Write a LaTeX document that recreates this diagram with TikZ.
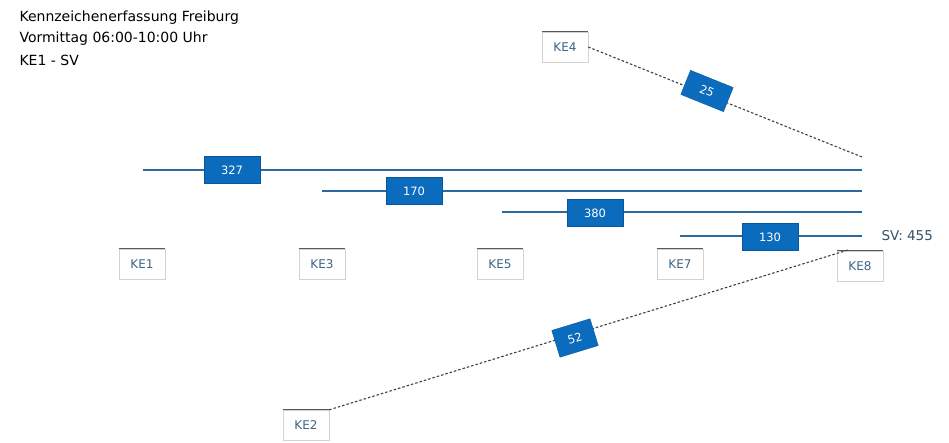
\documentclass[tikz,border=0pt]{standalone}
\usepackage{fontspec}
\setmainfont{DejaVu Sans}
\begin{document}
\begin{tikzpicture}[x=1pt,y=-1pt,
  flow/.style={draw=linecol,line width=1.6pt},
  valbox/.style={fill=boxcol,draw=boxcol!80!black,line width=0.4pt,minimum width=56pt,minimum height=27pt,inner sep=0pt,text=white,font=\fontsize{11.5}{13}\selectfont},
  dvalbox/.style={valbox,minimum width=46pt,minimum height=26pt},
  kebox/.style={draw=gray!35,fill=white,minimum width=46pt,minimum height=30pt,inner sep=0pt,text=ketext,font=\fontsize{12}{14}\selectfont,
     append after command={\pgfextra{\draw[gray!70!black,line width=1.2pt] (\tikzlastnode.north west) -- (\tikzlastnode.north east);}}},
  dline/.style={draw=gray!50!black,dashed,dash pattern=on 2.5pt off 2pt,line width=1.1pt},
  title/.style={anchor=west,font=\fontsize{14}{16}\selectfont,text=black}
]
\definecolor{linecol}{HTML}{2B6AA3}
\definecolor{boxcol}{HTML}{0B6CBE}
\definecolor{ketext}{HTML}{3D6585}
\useasboundingbox (0,0) rectangle (949,443);

\node[title] (t1) at (16,18) {Kennzeichenerfassung Freiburg};
\node[title] (t2) at (16,39) {Vormittag 06:00-10:00 Uhr};
\node[title] (t3) at (16,60) {KE1 - SV};

% lines
\coordinate (s1) at (143,170);
\coordinate (s2) at (322,191);
\coordinate (s3) at (502,212);
\coordinate (s4) at (680,236);
\coordinate (e1) at (862,170);
\coordinate (e2) at (862,191);
\coordinate (e3) at (862,212);
\coordinate (e4) at (862,236);
\draw[flow] (s1) -- (e1);
\draw[flow] (s2) -- (e2);
\draw[flow] (s3) -- (e3);
\draw[flow] (s4) -- (e4);
\node[valbox] (v1) at (232,170) {327};
\node[valbox] (v2) at (414,191) {170};
\node[valbox] (v3) at (595,213) {380};
\node[valbox] (v4) at (770,237) {130};
\node[anchor=west,font=\fontsize{13.5}{15}\selectfont,text=ketext!80!black] (sv) at (878,236) {SV: 455};

% KE boxes
\node[kebox] (ke1) at (142,264) {KE1};
\node[kebox] (ke3) at (322,264) {KE3};
\node[kebox] (ke5) at (500,264) {KE5};
\node[kebox] (ke7) at (680,264) {KE7};
\node[kebox] (ke8) at (860,266) {KE8};
\node[kebox] (ke4) at (565,47) {KE4};
\node[kebox] (ke2) at (306,425) {KE2};

% dashed connectors
\coordinate (d1) at (862,157);
\coordinate (d2) at (848,250);
\draw[dline] (ke4.east) -- (d1);
\draw[dline] (ke2.north east) -- (d2);
\node[dvalbox,rotate=-22] (v5) at (707,91) {25};
\node[dvalbox,minimum width=40pt,minimum height=28pt,rotate=17] (v6) at (575,338) {52};
\end{tikzpicture}
\end{document}
